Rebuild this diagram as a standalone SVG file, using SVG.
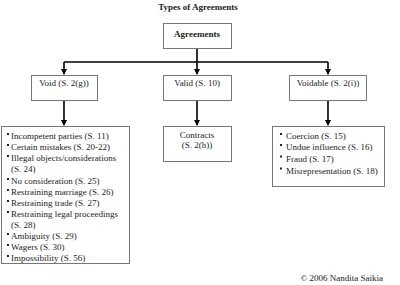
<svg xmlns="http://www.w3.org/2000/svg" width="400" height="285" viewBox="0 0 400 285">
<defs>
<style>
.t{font-family:"Liberation Serif","Times New Roman",serif;font-size:9px;fill:#222}
.c{text-anchor:middle}
.box{fill:#fff;stroke:#777;stroke-width:1}
.ln{stroke:#000;stroke-width:1.6;fill:none}
.b{fill:#222}
</style>
<marker id="ah" markerWidth="6" markerHeight="6" refX="5" refY="3" orient="auto" markerUnits="userSpaceOnUse">
<path d="M0,0 L6,3 L0,6 Z" fill="#000"/>
</marker>
</defs>
<rect width="400" height="285" fill="#fff"/>
<text class="t c" x="198" y="10" font-size="10" font-weight="bold">Types of Agreements</text>
<g id="connectors">
<path class="ln" d="M197,48 V62 M64,62 H328"/>
<path class="ln" d="M64,62 V74" marker-end="url(#ah)"/>
<path class="ln" d="M197,62 V74" marker-end="url(#ah)"/>
<path class="ln" d="M328,62 V74" marker-end="url(#ah)"/>
<path class="ln" d="M64,100 V125" marker-end="url(#ah)"/>
<path class="ln" d="M197,100 V125" marker-end="url(#ah)"/>
<path class="ln" d="M328,100 V125" marker-end="url(#ah)"/>
</g>
<g id="agreements">
<rect class="box" x="163.5" y="23.5" width="68" height="25"/>
<text class="t c" x="197" y="37" font-size="10" font-weight="bold">Agreements</text>
</g>
<g id="void">
<rect class="box" x="31.5" y="75.5" width="66" height="25"/>
<text class="t c" x="64" y="86">Void (S. 2(g))</text>
</g>
<g id="valid">
<rect class="box" x="163.5" y="75.5" width="68" height="25"/>
<text class="t c" x="197" y="86">Valid (S. 10)</text>
</g>
<g id="voidable">
<rect class="box" x="289.5" y="75.5" width="77" height="25"/>
<text class="t c" x="328" y="86">Voidable (S. 2(i))</text>
</g>
<g id="void-list">
<rect class="box" x="1.5" y="126.5" width="128" height="137"/>
<g class="b">
<rect x="7" y="133" width="2" height="2"/>
<rect x="7" y="144" width="2" height="2"/>
<rect x="7" y="155" width="2" height="2"/>
<rect x="7" y="178" width="2" height="2"/>
<rect x="7" y="189" width="2" height="2"/>
<rect x="7" y="200" width="2" height="2"/>
<rect x="7" y="211" width="2" height="2"/>
<rect x="7" y="233" width="2" height="2"/>
<rect x="7" y="244" width="2" height="2"/>
<rect x="7" y="255" width="2" height="2"/>
</g>
<text class="t" x="11" y="139">Incompetent parties (S. 11)</text>
<text class="t" x="11" y="150">Certain mistakes (S. 20-22)</text>
<text class="t" x="11" y="161">Illegal objects/considerations</text>
<text class="t" x="11" y="171.5">(S. 24)</text>
<text class="t" x="11" y="184">No consideration (S. 25)</text>
<text class="t" x="11" y="195">Restraining marriage (S. 26)</text>
<text class="t" x="11" y="206">Restraining trade (S. 27)</text>
<text class="t" x="11" y="217">Restraining legal proceedings</text>
<text class="t" x="11" y="227.5">(S. 28)</text>
<text class="t" x="11" y="239">Ambiguity (S. 29)</text>
<text class="t" x="11" y="250">Wagers (S. 30)</text>
<text class="t" x="11" y="261">Impossibility (S. 56)</text>
</g>
<g id="contracts">
<rect class="box" x="163.5" y="126.5" width="68" height="35"/>
<text class="t c" x="197" y="138">Contracts</text>
<text class="t c" x="197" y="148">(S. 2(h))</text>
</g>
<g id="voidable-list">
<rect class="box" x="272.5" y="126.5" width="112" height="60"/>
<g class="b">
<rect x="280" y="133" width="2" height="2"/>
<rect x="280" y="144" width="2" height="2"/>
<rect x="280" y="155.5" width="2" height="2"/>
<rect x="280" y="167.5" width="2" height="2"/>
</g>
<text class="t" x="286" y="139">Coercion (S. 15)</text>
<text class="t" x="286" y="150">Undue influence (S. 16)</text>
<text class="t" x="286" y="161.5">Fraud (S. 17)</text>
<text class="t" x="286" y="173.5">Misrepresentation (S. 18)</text>
</g>
<text class="t" x="383" y="281" text-anchor="end">© 2006 Nandita Saikia</text>
</svg>
